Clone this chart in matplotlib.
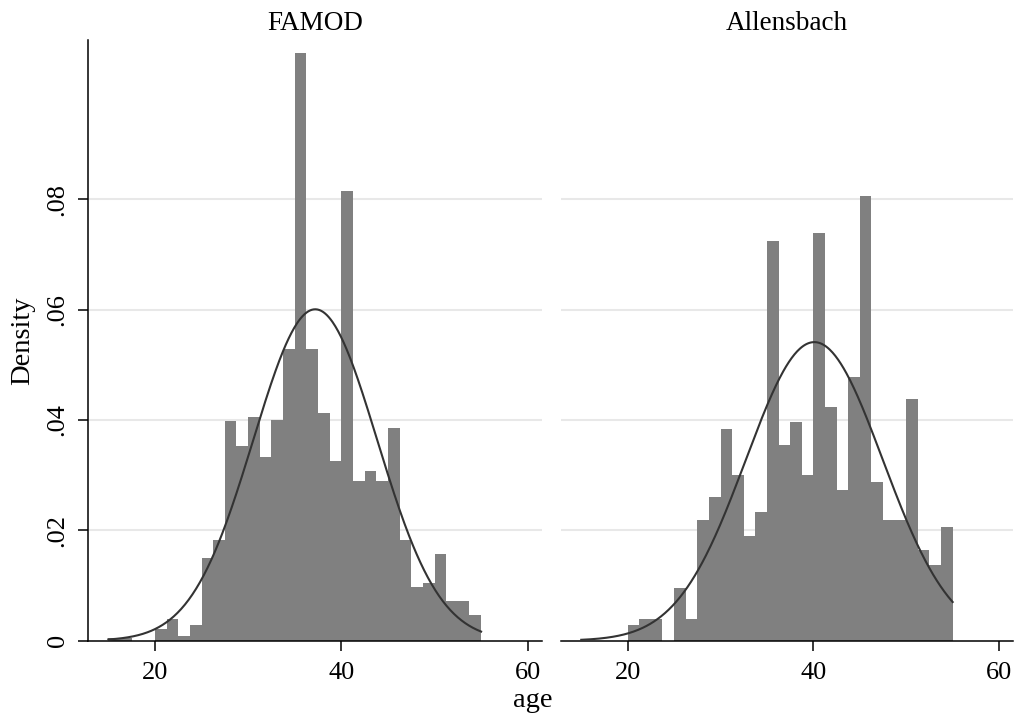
import numpy as np
import matplotlib
matplotlib.use("Agg")
import matplotlib.pyplot as plt

plt.rcParams['font.family'] = ['Liberation Serif', 'DejaVu Serif']

# histogram bins: 32 bins of width 1.25 from 15 to 55
bin_start = 15.0
bin_width = 1.25

famod_density = [0.0005, 0.0005, 0.0, 0.0, 0.0021, 0.0039, 0.0009, 0.0029,
                 0.0150, 0.0183, 0.0398, 0.0353, 0.0405, 0.0333, 0.0400, 0.0529,
                 0.1065, 0.0529, 0.0412, 0.0326, 0.0816, 0.0289, 0.0308, 0.0289,
                 0.0385, 0.0183, 0.0098, 0.0104, 0.0158, 0.0072, 0.0072, 0.0047]

allens_density = [0.0, 0.0, 0.0, 0.0, 0.0028, 0.0040, 0.0040, 0.0,
                  0.0095, 0.0040, 0.0218, 0.0260, 0.0383, 0.0300, 0.0190, 0.0233,
                  0.0724, 0.0354, 0.0396, 0.0300, 0.0739, 0.0423, 0.0273, 0.0478,
                  0.0806, 0.0287, 0.0218, 0.0218, 0.0438, 0.0164, 0.0137, 0.0206]

# normal overlay parameters (mean, sd)
famod_norm = (37.2, 6.64)
allens_norm = (40.1, 7.37)

panels = [("FAMOD", famod_density, famod_norm),
          ("Allensbach", allens_density, allens_norm)]

xticks = [20, 40, 60]
yticks = [0, 0.02, 0.04, 0.06, 0.08]
ylabels = ["0", ".02", ".04", ".06", ".08"]

W, H = 1016, 719
fig = plt.figure(figsize=(W / 100, H / 100), dpi=100)

bottom = (H - 640.7) / H
height = 600.7 / H
ax_l = fig.add_axes([88 / W, bottom, 453.7 / W, height])
ax_r = fig.add_axes([561 / W, bottom, 452 / W, height])

for i, (ax, (title, dens, (mu, sd))) in enumerate(zip([ax_l, ax_r], panels)):
    n = len(dens)
    lefts = bin_start + bin_width * np.arange(n)
    ax.bar(lefts, dens, width=bin_width, align='edge', color='#808080',
           linewidth=0, zorder=2)
    xs = np.linspace(bin_start, bin_start + bin_width * n, 400)
    ys = np.exp(-0.5 * ((xs - mu) / sd) ** 2) / (sd * np.sqrt(2 * np.pi))
    ax.plot(xs, ys, color='#333333', lw=1.5, zorder=3)

    ax.set_xlim(12.82, 61.5)
    ax.set_ylim(0, 0.1089)
    ax.set_xticks(xticks)
    ax.set_xticklabels([str(t) for t in xticks], fontsize=19)
    ax.set_yticks(yticks)
    for y in yticks[1:]:
        ax.axhline(y, color='#e8e8e8', lw=1.5, zorder=1)
    ax.set_title(title, fontsize=19.5, pad=7)

    ax.spines['top'].set_visible(False)
    ax.spines['right'].set_visible(False)
    ax.spines['bottom'].set_linewidth(1.1)
    ax.tick_params(axis='x', direction='out', length=7, width=1.1, pad=8)

    if i == 0:
        ax.spines['left'].set_linewidth(1.1)
        ax.set_yticklabels(ylabels, fontsize=19, rotation=90, va='center')
        ax.tick_params(axis='y', direction='out', length=7, width=1.1, pad=7)
        ax.set_ylabel("Density", fontsize=20.5, labelpad=8)
    else:
        ax.spines['left'].set_visible(False)
        ax.tick_params(axis='y', left=False, labelleft=False)

fig.text(0.5245, 0.008, "age", ha='center', va='bottom', fontsize=20.5)

fig.savefig("out.png", dpi=100)
